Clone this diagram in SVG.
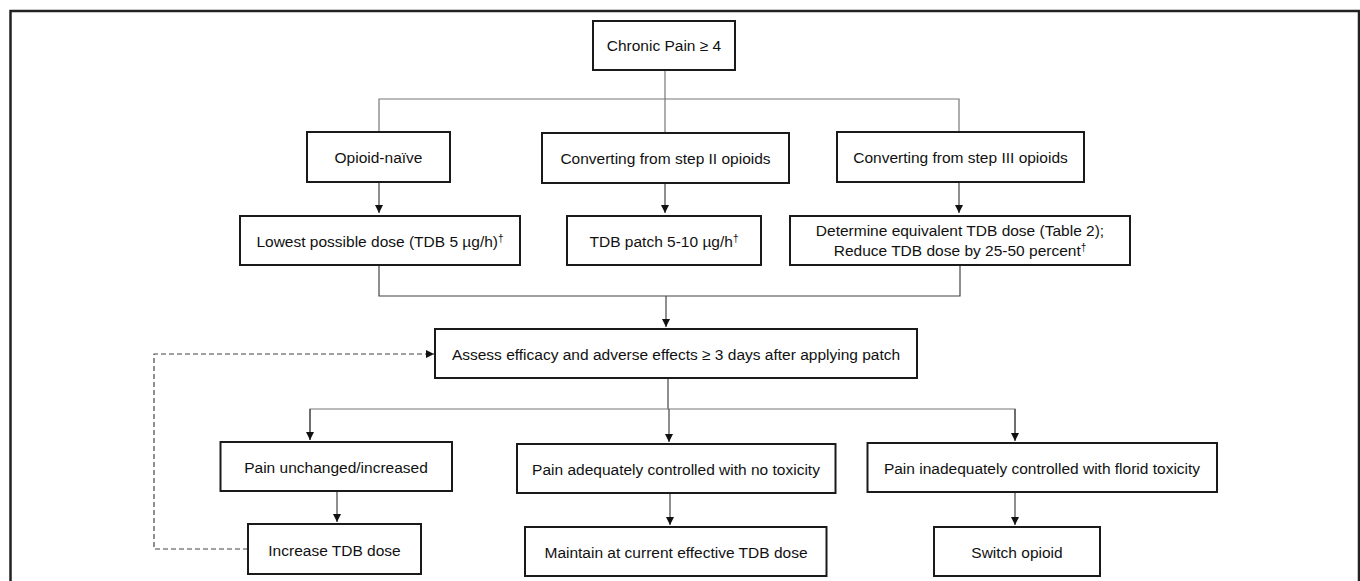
<svg xmlns="http://www.w3.org/2000/svg" width="1360" height="581" viewBox="0 0 1360 581">
<style>
.box{fill:#fff;stroke:#1a1a1a;stroke-width:2}
.t{font-family:"Liberation Sans",Arial,sans-serif;font-size:15.5px;fill:#111;text-anchor:middle}
.sup{font-size:10px}
.c{fill:none;stroke:#444;stroke-width:1.2}
.g{fill:none;stroke:#777;stroke-width:1.2}
.d{fill:none;stroke:#444;stroke-width:1.2;stroke-dasharray:5 3}
</style>
<defs>
<marker id="ah" markerUnits="userSpaceOnUse" markerWidth="9" markerHeight="9" refX="8" refY="4" orient="auto">
<path d="M0,0 L8,4 L0,8 z" fill="#111"/>
</marker>
</defs>
<rect width="1360" height="581" fill="#fff"/>
<rect x="10.5" y="11" width="1348.5" height="600" fill="none" stroke="#222" stroke-width="2.5"/>
<g id="connectors">
<path class="g" d="M665,70 V133"/>
<path class="g" d="M379,132 V99 H959 V132"/>
<path class="c" d="M379,182 V213" marker-end="url(#ah)"/>
<path class="c" d="M665,183 V213" marker-end="url(#ah)"/>
<path class="c" d="M959,182 V213" marker-end="url(#ah)"/>
<path class="c" d="M379,265 V296 H960 V265"/>
<path class="c" d="M666,296 V327" marker-end="url(#ah)"/>
<path class="c" d="M668,378 V409"/>
<path class="g" d="M310,440 V409 H1015 V440"/>
<path class="c" d="M310,409 V440" marker-end="url(#ah)"/>
<path class="c" d="M669,409 V442" marker-end="url(#ah)"/>
<path class="c" d="M1015,409 V441" marker-end="url(#ah)"/>
<path class="c" d="M337,491 V522" marker-end="url(#ah)"/>
<path class="c" d="M670,493 V525" marker-end="url(#ah)"/>
<path class="c" d="M1015,492 V525" marker-end="url(#ah)"/>
<path class="d" d="M248,549 H154 V354 H434" marker-end="url(#ah)"/>
</g>
<g id="n-chronic"><rect class="box" x="593" y="21" width="142" height="49"/><text class="t" x="664" y="51">Chronic Pain ≥ 4</text></g>
<g id="n-naive"><rect class="box" x="307" y="132" width="143" height="50"/><text class="t" x="378.5" y="163">Opioid-naïve</text></g>
<g id="n-step2"><rect class="box" x="542" y="133" width="247" height="50"/><text class="t" x="665.5" y="164">Converting from step II opioids</text></g>
<g id="n-step3"><rect class="box" x="837" y="132" width="247" height="50"/><text class="t" x="960.5" y="163">Converting from step III opioids</text></g>
<g id="n-lowest"><rect class="box" x="240" y="216" width="280" height="49"/><text class="t" x="380" y="246.5">Lowest possible dose (TDB 5 µg/h)<tspan class="sup" dy="-5">†</tspan></text></g>
<g id="n-patch"><rect class="box" x="567" y="216" width="194" height="49"/><text class="t" x="664" y="246.5">TDB patch 5-10 µg/h<tspan class="sup" dy="-5">†</tspan></text></g>
<g id="n-determine"><rect class="box" x="790" y="216" width="340" height="49"/><text class="t" x="960" y="236">Determine equivalent TDB dose (Table 2);</text><text class="t" x="960" y="256">Reduce TDB dose by 25-50 percent<tspan class="sup" dy="-5">†</tspan></text></g>
<g id="n-assess"><rect class="box" x="435" y="329" width="482" height="49"/><text class="t" x="676" y="359.5">Assess efficacy and adverse effects ≥ 3 days after applying patch</text></g>
<g id="n-unchanged"><rect class="box" x="220.5" y="442" width="231.5" height="49"/><text class="t" x="336" y="473">Pain unchanged/increased</text></g>
<g id="n-adequate"><rect class="box" x="517" y="444" width="318.5" height="49"/><text class="t" x="676" y="475">Pain adequately controlled with no toxicity</text></g>
<g id="n-inadequate"><rect class="box" x="867.5" y="443" width="349.5" height="49"/><text class="t" x="1042" y="474">Pain inadequately controlled with florid toxicity</text></g>
<g id="n-increase"><rect class="box" x="248" y="524" width="173" height="50"/><text class="t" x="334.5" y="555.5">Increase TDB dose</text></g>
<g id="n-maintain"><rect class="box" x="525" y="527" width="301.5" height="49"/><text class="t" x="676" y="558">Maintain at current effective TDB dose</text></g>
<g id="n-switch"><rect class="box" x="934" y="527" width="166" height="49"/><text class="t" x="1017" y="558">Switch opioid</text></g>
</svg>
